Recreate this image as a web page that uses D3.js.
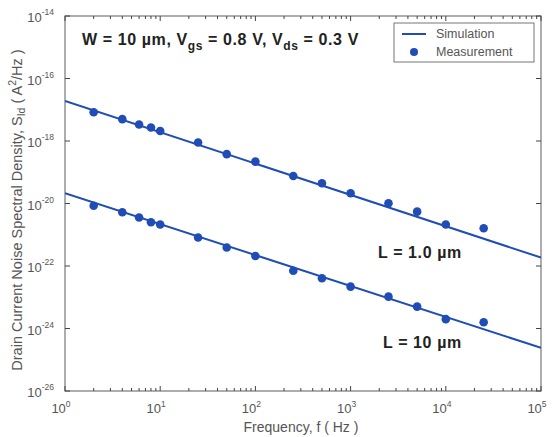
<!DOCTYPE html>
<html><head><meta charset="utf-8">
<script src="https://cdn.jsdelivr.net/npm/d3@7"></script>
<style>body{margin:0;background:#fff}svg{display:block;font-family:Arial,"Liberation Sans",sans-serif}</style>
</head><body>
<svg id="c" width="555" height="437"></svg>
<script>
const freqs = [2, 4, 6, 8, 10, 25, 50, 100, 250, 500, 1000, 2500, 5000, 10000, 25000];
const measL1 = [-17.08, -17.30, -17.47, -17.57, -17.68, -18.05, -18.42, -18.66, -19.12, -19.35, -19.67, -19.99, -20.26, -20.67, -20.79];
const measL10 = [-20.07, -20.28, -20.45, -20.60, -20.67, -21.09, -21.41, -21.68, -22.15, -22.39, -22.66, -22.98, -23.30, -23.70, -23.80];
const simFreqs = [1, 100000];
const simL1 = [-16.72, -21.73];
const simL10 = [-19.67, -24.62];
const xTickExps = [0, 1, 2, 3, 4, 5];
const yTickExps = [-26, -24, -22, -20, -18, -16, -14];

const W = 555, H = 437;
const m = {l: 65, r: 541, t: 16, b: 391};
const blue = "#1f4db5";
const svg = d3.select("#c");
const x = d3.scaleLog().domain([1, 1e5]).range([m.l, m.r]);
const y = d3.scaleLog().domain([1e-26, 1e-14]).range([m.b, m.t]);

// minor x ticks
const minor = [];
for (let e = 0; e < 5; e++) for (let k = 2; k <= 9; k++) minor.push(k * Math.pow(10, e));
const axisCol = "#777";
const g = svg.append("g");
g.append("rect").attr("x", m.l).attr("y", m.t).attr("width", m.r - m.l).attr("height", m.b - m.t)
  .attr("fill", "none").attr("stroke", axisCol).attr("stroke-width", 1.2);
[m.b, m.t].forEach((yy, i) => {
  const dir = i === 0 ? -1 : 1;
  g.selectAll(null).data(minor).enter().append("line")
    .attr("x1", d => x(d)).attr("x2", d => x(d)).attr("y1", yy).attr("y2", yy + dir * 3)
    .attr("stroke", "#444").attr("stroke-width", 1);
  g.selectAll(null).data(xTickExps).enter().append("line")
    .attr("x1", d => x(Math.pow(10, d))).attr("x2", d => x(Math.pow(10, d))).attr("y1", yy).attr("y2", yy + dir * 5)
    .attr("stroke", "#444").attr("stroke-width", 1);
});
[m.l, m.r].forEach((xx, i) => {
  const dir = i === 0 ? 1 : -1;
  g.selectAll(null).data(yTickExps).enter().append("line")
    .attr("y1", d => y(Math.pow(10, d))).attr("y2", d => y(Math.pow(10, d))).attr("x1", xx).attr("x2", xx + dir * 5)
    .attr("stroke", "#444").attr("stroke-width", 1);
});

const txtCol = "#555";
xTickExps.forEach(e => {
  const t = svg.append("text").attr("x", x(Math.pow(10, e)) - 4).attr("y", 413)
    .attr("text-anchor", "middle").attr("font-size", 13).attr("fill", txtCol);
  t.append("tspan").text("10");
  t.append("tspan").attr("dy", -6).attr("font-size", 8.5).text(e);
});
yTickExps.forEach(e => {
  const t = svg.append("text").attr("x", 54).attr("y", y(Math.pow(10, e)) + 6)
    .attr("text-anchor", "end").attr("font-size", 13).attr("fill", txtCol);
  t.append("tspan").text("10");
  t.append("tspan").attr("dy", -7).attr("font-size", 8.5).text(e);
});
svg.append("text").attr("x", 301).attr("y", 432).attr("text-anchor", "middle")
  .attr("font-size", 14).attr("fill", txtCol).text("Frequency, f ( Hz )");
const yl = svg.append("text").attr("transform", `translate(22,210) rotate(-90)`)
  .attr("text-anchor", "middle").attr("font-size", 14.5).attr("fill", txtCol);
yl.append("tspan").text("Drain Current Noise Spectral Density, S");
yl.append("tspan").attr("dy", 3).attr("font-size", 10.5).text("Id");
yl.append("tspan").attr("dy", -3).text(" ( A");
yl.append("tspan").attr("dy", -6).attr("font-size", 10.5).text("2");
yl.append("tspan").attr("dy", 6).text("/Hz )");

svg.append("clipPath").attr("id", "clip").append("rect")
  .attr("x", m.l).attr("y", m.t).attr("width", m.r - m.l).attr("height", m.b - m.t);
const line = d3.line().x(d => x(d[0])).y(d => y(Math.pow(10, d[1])));
[simL1, simL10].forEach(s => {
  svg.append("path").attr("clip-path", "url(#clip)")
    .datum(simFreqs.map((f, i) => [f, s[i]])).attr("d", line)
    .attr("fill", "none").attr("stroke", blue).attr("stroke-width", 2);
});
[measL1, measL10].forEach(s => {
  svg.selectAll(null).data(freqs.map((f, i) => [f, s[i]])).enter().append("circle")
    .attr("cx", d => x(d[0])).attr("cy", d => y(Math.pow(10, d[1]))).attr("r", 4.3)
    .attr("fill", blue);
});

const lbl = {fs: 16, ls: 0.6, col: "#222", w: 600};
const t1 = svg.append("text").attr("x", 82).attr("y", 45).attr("font-size", lbl.fs).attr("font-weight", lbl.w)
  .attr("letter-spacing", lbl.ls).attr("fill", lbl.col);
t1.append("tspan").text("W = 10 \u00b5m, V");
t1.append("tspan").attr("dy", 5).attr("font-size", 12).text("gs");
t1.append("tspan").attr("dy", -5).text(" = 0.8 V, V");
t1.append("tspan").attr("dy", 5).attr("font-size", 12).text("ds");
t1.append("tspan").attr("dy", -5).text(" = 0.3 V");
svg.append("text").attr("x", 378).attr("y", 258).attr("font-size", lbl.fs).attr("font-weight", lbl.w)
  .attr("letter-spacing", lbl.ls).attr("fill", lbl.col).text("L = 1.0 \u00b5m");
svg.append("text").attr("x", 383).attr("y", 348).attr("font-size", lbl.fs).attr("font-weight", lbl.w)
  .attr("letter-spacing", lbl.ls).attr("fill", lbl.col).text("L = 10 \u00b5m");

svg.append("rect").attr("x", 394).attr("y", 23).attr("width", 140).attr("height", 39)
  .attr("fill", "#fff").attr("stroke", "#777").attr("stroke-width", 1);
svg.append("line").attr("x1", 402).attr("x2", 426).attr("y1", 34).attr("y2", 34).attr("stroke", blue).attr("stroke-width", 2);
svg.append("circle").attr("cx", 414).attr("cy", 52).attr("r", 4).attr("fill", blue);
svg.append("text").attr("x", 436).attr("y", 38).attr("font-size", 12.5).attr("fill", txtCol).text("Simulation");
svg.append("text").attr("x", 436).attr("y", 56).attr("font-size", 12.5).attr("fill", txtCol).text("Measurement");
</script>
</body></html>
